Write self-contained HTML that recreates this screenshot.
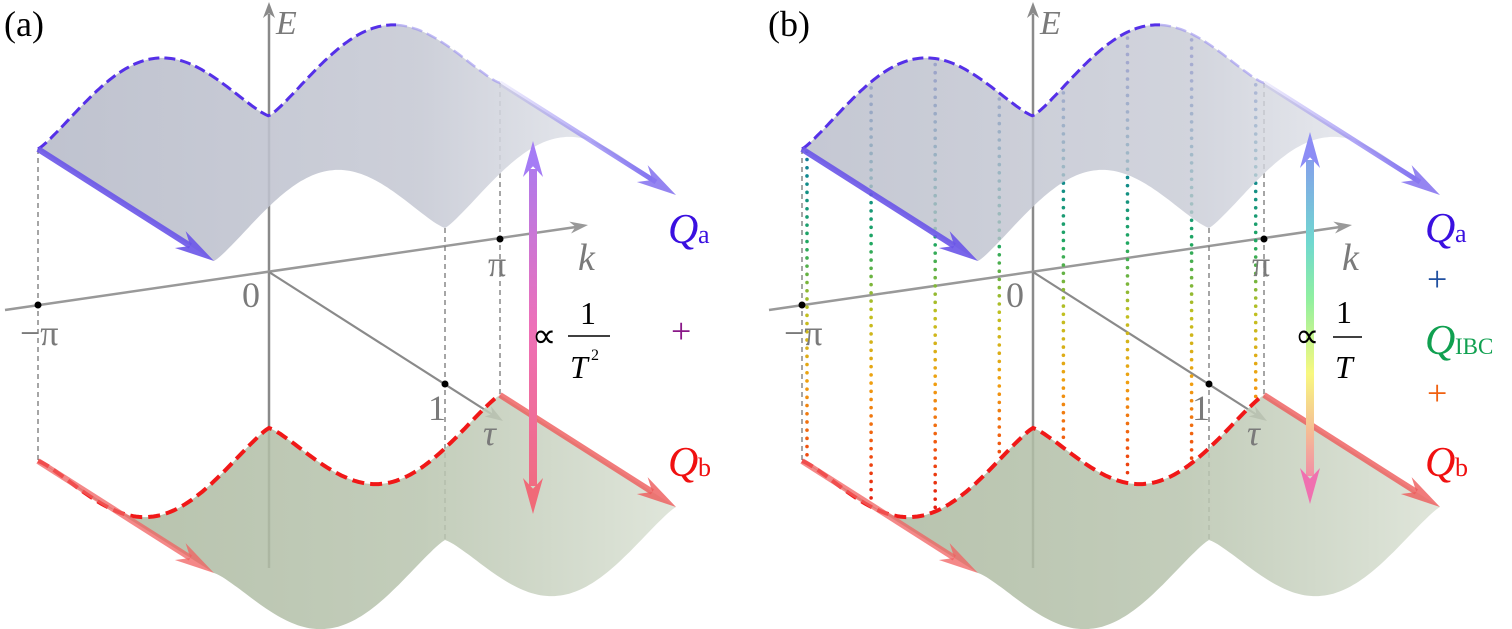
<!DOCTYPE html>
<html><head><meta charset="utf-8"><style>
html,body{margin:0;padding:0;background:#fff;}
svg{display:block;}
</style></head><body>
<svg id="s" width="1512" height="629" viewBox="0 0 1512 629" xmlns="http://www.w3.org/2000/svg" font-family="'Liberation Serif', serif">
<defs>
<linearGradient id="gu" x1="0" y1="0" x2="1" y2="0"><stop offset="0" stop-color="#b6bac8"/><stop offset="0.6" stop-color="#c6c9d4"/><stop offset="1" stop-color="#eef0f4"/></linearGradient>
<linearGradient id="gl" x1="0" y1="0" x2="1" y2="0"><stop offset="0" stop-color="#a8b69c"/><stop offset="0.6" stop-color="#b8c4ae"/><stop offset="1" stop-color="#dae1d4"/></linearGradient>
<linearGradient id="ga" gradientUnits="userSpaceOnUse" x1="0" y1="140" x2="0" y2="515"><stop offset="0" stop-color="#a57cf5"/><stop offset="0.5" stop-color="#ee70b8"/><stop offset="1" stop-color="#f06a78"/></linearGradient>
<linearGradient id="gb" gradientUnits="userSpaceOnUse" x1="0" y1="130" x2="0" y2="505"><stop offset="0" stop-color="#8c8cf5"/><stop offset="0.3" stop-color="#70d8d0"/><stop offset="0.45" stop-color="#90f0a0"/><stop offset="0.65" stop-color="#f8f880"/><stop offset="1" stop-color="#f070b0"/></linearGradient>
<linearGradient id="gd" gradientUnits="userSpaceOnUse" x1="0" y1="60" x2="0" y2="520"><stop offset="0" stop-color="#2030c0"/><stop offset="0.25" stop-color="#108890"/><stop offset="0.4" stop-color="#20a860"/><stop offset="0.55" stop-color="#c0c020"/><stop offset="0.7" stop-color="#f0a010"/><stop offset="0.85" stop-color="#f05010"/><stop offset="1" stop-color="#e01010"/></linearGradient>
<linearGradient id="fadeBlue" x1="0" y1="0" x2="1" y2="0"><stop offset="0" stop-color="#8070f0" stop-opacity="0.1"/><stop offset="1" stop-color="#8070f0"/></linearGradient>
</defs>
<g id="root"></g>
</svg>
<script>
const NS="http://www.w3.org/2000/svg";
const root=document.getElementById('root');
function el(tag,attrs,parent,txt){const e=document.createElementNS(NS,tag);if(tag==='text')e.setAttribute('font-family',"'Liberation Serif', serif");for(const a in attrs)e.setAttribute(a,attrs[a]);if(txt!==undefined)e.textContent=txt;(parent||root).appendChild(e);return e;}
const PI=Math.PI;
function P(dx,k,t,E){return [269+dx+k/PI*231+t*176, 272-k/PI*33+t*112-E];}
function s(k){return Math.pow(Math.abs(Math.sin(k)),1.2);}
function Eu(k){return 156+74*s(k);}
function El(k){return -(156+72*s(k));}
function curve(dx,f,t,k0,k1,n){let pts=[];for(let i=0;i<=n;i++){const k=k0+(k1-k0)*i/n;pts.push(P(dx,k,t,f(k)));}return pts;}
function d(pts){return 'M'+pts.map(p=>p[0].toFixed(1)+','+p[1].toFixed(1)).join('L');}
function head(g,tip,from,len,w,fill,op){const dxv=tip[0]-from[0],dyv=tip[1]-from[1];const L=Math.hypot(dxv,dyv);const ux=dxv/L,uy=dyv/L;const nx=-uy,ny=ux;
 const b=[tip[0]-ux*len,tip[1]-uy*len];const notch=[tip[0]-ux*len*0.7,tip[1]-uy*len*0.7];
 el('polygon',{points:[tip,[b[0]+nx*w,b[1]+ny*w],notch,[b[0]-nx*w,b[1]-ny*w]].map(p=>p.join(',')).join(' '),fill:fill,'fill-opacity':op||1},g);}
function arrowLine(g,a,b,col,w,op,len,hw){const L=Math.hypot(b[0]-a[0],b[1]-a[1]);const ux=(b[0]-a[0])/L,uy=(b[1]-a[1])/L;
 el('line',{x1:a[0],y1:a[1],x2:b[0]-ux*len*0.7,y2:b[1]-uy*len*0.7,stroke:col,'stroke-width':w,'stroke-opacity':op||1},g);head(g,b,a,len,hw,col,op);}

function panel(dx,isB){
 const g=el('g',{});
 const O=P(dx,0,0,0);
 el('line',{x1:O[0],y1:568,x2:O[0],y2:14,stroke:'#8a8a8a','stroke-width':2.5},g);
 head(g,[O[0],2],[O[0],100],16,6,'#8a8a8a');
 const kA=[dx+5,310], kB=[dx+588,225];
 el('line',{x1:kA[0],y1:kA[1],x2:kB[0]-12,y2:kB[1]+2,stroke:'#999','stroke-width':2.5},g);
 head(g,kB,kA,18,6,'#999');
 const tB=[dx+503,421];
 el('line',{x1:O[0],y1:O[1],x2:tB[0]-10,y2:tB[1]-6,stroke:'#8a8a8a','stroke-width':2.2},g);
 head(g,tB,O,18,6,'#8a8a8a');
 [[-PI,0],[PI,0],[0,1]].forEach(([k,t])=>{const a=P(dx,k,t,Eu(k)),b=P(dx,k,t,El(k));
  el('line',{x1:a[0],y1:a[1],x2:b[0],y2:b[1],stroke:'#777','stroke-width':1.3,'stroke-dasharray':'5,4'},g);});
 if(isB){for(let i=0;i<8;i++){const xx=dx+38+i*64.1+5; const k=(xx-(269+dx))/231*PI;
  const a=P(dx,k,0,Eu(k)),b=P(dx,k,0,El(k));
  el('line',{x1:a[0],y1:a[1]+6,x2:b[0],y2:b[1]-4,stroke:'url(#gd)','stroke-width':3.6,'stroke-linecap':'round','stroke-dasharray':'0,8.2'},g);}}
 const lf=curve(dx,El,0,-PI,PI,160), lb=curve(dx,El,1,PI,-PI,160);
 el('path',{d:d(lf.concat(lb))+'Z',fill:'url(#gl)','fill-opacity':0.85},g);
 const uf=curve(dx,Eu,0,-PI,PI,160), ub=curve(dx,Eu,1,PI,-PI,160);
 el('path',{d:d(uf.concat(ub))+'Z',fill:'url(#gu)','fill-opacity':isB?0.8:0.88},g);
 el('path',{d:d(curve(dx,Eu,0,-PI,0.55*PI,140)),fill:'none',stroke:'#5530e8','stroke-width':3,'stroke-dasharray':'11,5'},g);
 el('path',{d:d(curve(dx,Eu,0,0.55*PI,PI,40)),fill:'none',stroke:'#9a90f0','stroke-width':2.5,'stroke-dasharray':'11,5','stroke-opacity':0.6},g);
 el('path',{d:d(curve(dx,El,0,-PI,PI,160)),fill:'none',stroke:'#f01818','stroke-width':4,'stroke-dasharray':'12,6'},g);
 arrowLine(g,P(dx,-PI,0,Eu(-PI)),P(dx,-PI,1,Eu(-PI)),'#6a55e8',6,0.9,40,10);
 const ra=P(dx,PI,0,Eu(PI)),rb=P(dx,PI,1,Eu(PI));
 el('line',{x1:ra[0],y1:ra[1],x2:rb[0]-20,y2:rb[1]-13,stroke:'url(#fadeBlue)','stroke-width':5},g);
 head(g,rb,ra,40,10,'#8a78f0',0.9);
 arrowLine(g,P(dx,-PI,0,El(-PI)),P(dx,-PI,1,El(-PI)),'#f06060',6,0.75,40,10);
 arrowLine(g,P(dx,PI,0,El(PI)),P(dx,PI,1,El(PI)),'#ee5a5a',6,0.8,40,10);
 const ax=isB?dx+546:dx+533, y1=isB?132:141, y2=isB?504:514;
 el('rect',{x:ax-4,y:y1+28,width:8,height:y2-y1-56,fill:isB?'url(#gb)':'url(#ga)'},g);
 head(g,[ax,y1],[ax,y2],36,10,isB?'#8c8cf5':'#a57cf5');
 head(g,[ax,y2],[ax,y1],36,10,isB?'#f070b0':'#f06a78');
 [[-PI,0],[PI,0]].forEach(([k,t])=>{const p=P(dx,k,t,0);el('circle',{cx:p[0],cy:p[1],r:3.5,fill:'#000'},g);});
 const p1=P(dx,0,1,0);el('circle',{cx:p1[0],cy:p1[1],r:3.5,fill:'#000'},g);
 const gr='#7a7a7a';
 el('text',{x:dx+4,y:36,'font-size':36},g,isB?'(b)':'(a)');
 el('text',{x:dx+276,y:34,'font-size':34,'font-style':'italic',fill:gr},g,'E');
 el('text',{x:dx+242,y:307,'font-size':36,fill:gr},g,'0');
 el('text',{x:dx+20,y:345,'font-size':36,fill:gr},g,'−π');
 el('text',{x:dx+488,y:276,'font-size':36,fill:gr},g,'π');
 el('text',{x:dx+578,y:270,'font-size':38,'font-style':'italic',fill:gr},g,'k');
 el('text',{x:dx+428,y:420,'font-size':36,fill:gr},g,'1');
 el('text',{x:dx+483,y:445,'font-size':36,'font-style':'italic',fill:gr},g,'τ');
 if(!isB){
  el('text',{x:dx+532,y:347,'font-size':34},g,'∝');
  el('text',{x:dx+580,y:324,'font-size':32},g,'1');
  el('line',{x1:dx+568,y1:336,x2:dx+610,y2:336,stroke:'#000','stroke-width':1.6},g);
  el('text',{x:dx+570,y:378,'font-size':32,'font-style':'italic'},g,'T');
  el('text',{x:dx+591,y:360,'font-size':16},g,'2');
  el('text',{x:dx+671,y:343,'font-size':36,fill:'#8a1888'},g,'+');
  el('text',{x:dx+668,y:243,'font-size':42,'font-style':'italic',fill:'#3a10e0'},g,'Q');
  el('text',{x:dx+698,y:243,'font-size':26,fill:'#3a10e0'},g,'a');
  el('text',{x:dx+668,y:476,'font-size':42,'font-style':'italic',fill:'#f01010'},g,'Q');
  el('text',{x:dx+698,y:476,'font-size':26,fill:'#f01010'},g,'b');
 } else {
  el('text',{x:1295,y:347,'font-size':34},g,'∝');
  el('text',{x:1336,y:323,'font-size':32},g,'1');
  el('line',{x1:1333,y1:337,x2:1362,y2:337,stroke:'#000','stroke-width':1.6},g);
  el('text',{x:1335,y:378,'font-size':32,'font-style':'italic'},g,'T');
  el('text',{x:1425,y:242,'font-size':42,'font-style':'italic',fill:'#3a10e0'},g,'Q');
  el('text',{x:1455,y:242,'font-size':26,fill:'#3a10e0'},g,'a');
  el('text',{x:1427,y:291,'font-size':36,fill:'#2050a0'},g,'+');
  el('text',{x:1425,y:354,'font-size':42,'font-style':'italic',fill:'#10a050'},g,'Q');
  el('text',{x:1455,y:354,'font-size':23,fill:'#10a050'},g,'IBC');
  el('text',{x:1427,y:405,'font-size':36,fill:'#f06010'},g,'+');
  el('text',{x:1425,y:476,'font-size':42,'font-style':'italic',fill:'#f01010'},g,'Q');
  el('text',{x:1455,y:476,'font-size':26,fill:'#f01010'},g,'b');
 }
}
panel(0,false);
panel(764,true);
</script>
</body></html>
